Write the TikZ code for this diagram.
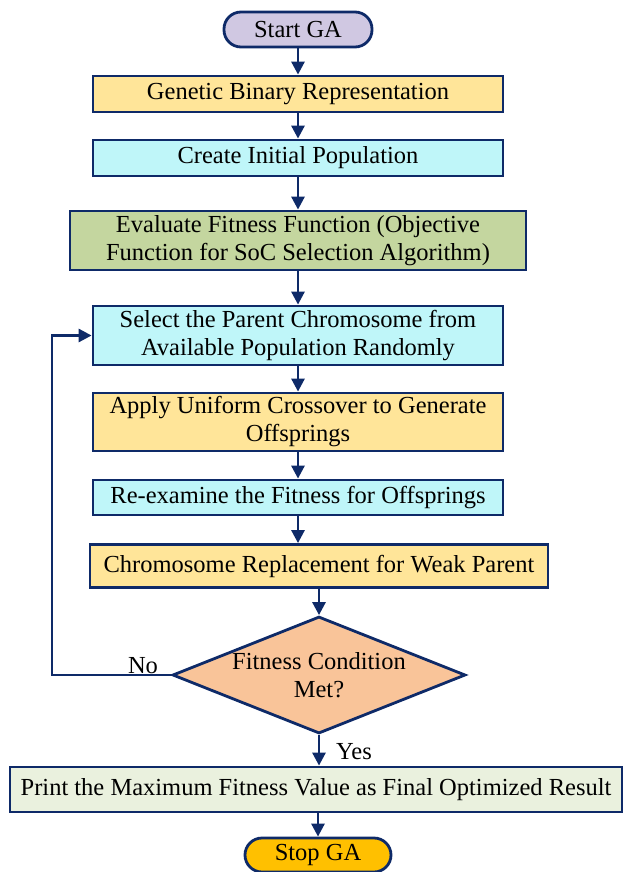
\documentclass[tikz,border=0pt]{standalone}
\usepackage{fontspec}
\setmainfont{Liberation Serif}
\usetikzlibrary{arrows.meta,shapes.geometric}
\definecolor{navy}{RGB}{14,42,104}
\definecolor{lavender}{RGB}{208,200,226}
\definecolor{sand}{RGB}{255,229,153}
\definecolor{icecyan}{RGB}{191,246,249}
\definecolor{olive}{RGB}{196,214,159}
\definecolor{peach}{RGB}{249,196,153}
\definecolor{mint}{RGB}{234,241,222}
\definecolor{amber}{RGB}{255,192,0}
\tikzset{
  box/.style={draw=navy, line width=2.8pt, inner sep=0pt, align=center},
  terminal/.style={box, rounded corners=17pt},
  decision/.style={draw=navy, line width=2.8pt, diamond, inner sep=0pt},
  flow/.style={draw=navy, line width=2.8pt, -{Triangle[width=13pt,length=13pt]}}
}
\begin{document}
\begin{tikzpicture}[x=1pt, y=-1pt, font=\fontsize{24.5}{28}\selectfont]
			%%%%% START %%%%%
			\useasboundingbox (0,0) rectangle (625,872);
			
			\node[terminal, fill=lavender, minimum width=148pt, minimum height=35pt] (start) at (298, 29.5) {Start GA};
			\node[box, fill=sand, minimum width=410pt, minimum height=36pt] (binrep) at (298, 94) {Genetic Binary Representation};
			\node[box, fill=icecyan, minimum width=410pt, minimum height=36pt] (initpop) at (298, 158) {Create Initial Population};
			\node[box, fill=olive, minimum width=456pt, minimum height=59pt] (fitness) at (298, 240.5) {Evaluate Fitness Function (Objective\\Function for SoC Selection Algorithm)};
			\node[box, fill=icecyan, minimum width=410pt, minimum height=59pt] (select) at (298, 335.5) {Select the Parent Chromosome from\\Available Population Randomly};
			\node[box, fill=sand, minimum width=410pt, minimum height=58pt] (crossover) at (298, 422) {Apply Uniform Crossover to Generate\\Offsprings};
			\node[box, fill=icecyan, minimum width=410pt, minimum height=35pt] (reexam) at (298, 497.5) {Re-examine the Fitness for Offsprings};
			\node[box, fill=sand, minimum width=458pt, minimum height=43pt] (replace) at (319, 566) {Chromosome Replacement for Weak Parent};
			
			\node[decision, fill=peach, minimum width=293pt, minimum height=117pt] (cond) at (319, 675) {};
			\node[align=center] (condtext) at (cond) {Fitness Condition\\Met?};
			
			\node[box, fill=mint, minimum width=612pt, minimum height=45pt] (result) at (316, 789.5) {Print the Maximum Fitness Value as Final Optimized Result};
			\node[terminal, fill=amber, minimum width=146pt, minimum height=34pt] (stop) at (318, 855) {Stop GA};
			
			\draw[flow] (start) -- (binrep);
			\draw[flow] (binrep) -- (initpop);
			\draw[flow] (initpop) -- (fitness);
			\draw[flow] (fitness) -- (select);
			\draw[flow] (select) -- (crossover);
			\draw[flow] (crossover) -- (reexam);
			\draw[flow] (reexam.south) -- (reexam.south |- replace.north);
			\draw[flow] (replace.south -| cond.north) -- (cond.north);
			\draw[flow] (cond.south) -- (cond.south |- result.north);
			\draw[flow] (result.south -| stop.north) -- (stop.north);
			
			% loop back
			\coordinate (loopcorner) at (52, 675);
			\draw[flow] (cond.west) -- (loopcorner) -- (loopcorner |- select.west) -- (select.west);
			
			\node (nolabel) at (143, 666) {No};
			\node (yeslabel) at (354, 752) {Yes};
			
			%%%%% END %%%%%
		\end{tikzpicture}
\end{document}
